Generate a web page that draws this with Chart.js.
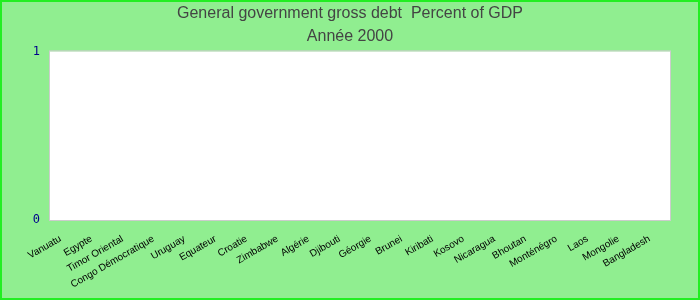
<!DOCTYPE html>
<html lang="fr">
<head>
    <meta charset="UTF-8">
    <title>General government gross debt</title>
    <script src="https://cdn.jsdelivr.net/npm/chart.js@4.4.0/dist/chart.umd.min.js"></script>
    <style>
        html, body {
            margin: 0;
            padding: 0;
            background-color: #90ee90;
        }
        .frame {
            width: 700px;
            height: 300px;
            box-sizing: border-box;
            border: 2px solid #22ee22;
            background-color: #90ee90;
        }
        .frame canvas {
            display: block;
        }
    </style>
</head>
<body>
    <div class="frame">
        <canvas id="debtChart" width="696" height="296"></canvas>
    </div>

    <script>
        // Chart data
        const countries = ['Vanuatu', 'Egypte', 'Timor Oriental', 'Congo Démocratique', 'Uruguay',
            'Equateur', 'Croatie', 'Zimbabwe', 'Algérie', 'Djibouti', 'Géorgie', 'Brunei',
            'Kiribati', 'Kosovo', 'Nicaragua', 'Bhoutan', 'Monténégro', 'Laos', 'Mongolie', 'Bangladesh'];
        // no value is shown for the year 2000
        const debtValues = [null, null, null, null, null, null, null, null, null, null,
            null, null, null, null, null, null, null, null, null, null];
        const yTicks = [0, 1];
        const titleLines = ['General government gross debt  Percent of GDP', 'Année 2000'];

        // white plot area with a light grey frame
        const plotBackground = {
            id: 'plotBackground',
            beforeDraw(chart) {
                const { ctx, chartArea } = chart;
                ctx.save();
                ctx.fillStyle = '#ffffff';
                ctx.fillRect(chartArea.left, chartArea.top, chartArea.width, chartArea.height);
                ctx.strokeStyle = '#cccccc';
                ctx.lineWidth = 1;
                ctx.strokeRect(chartArea.left - 0.5, chartArea.top - 0.5, chartArea.width + 1, chartArea.height + 1);
                ctx.restore();
            }
        };

        new Chart(document.getElementById('debtChart'), {
            type: 'bar',
            data: {
                labels: countries,
                datasets: [{
                    label: 'Percent of GDP',
                    data: debtValues,
                    backgroundColor: '#4a7fc1'
                }]
            },
            options: {
                responsive: false,
                animation: false,
                layout: { padding: 0 },
                plugins: {
                    legend: { display: false },
                    tooltip: { enabled: false },
                    title: {
                        display: true,
                        text: titleLines,
                        color: '#444444',
                        font: { family: 'Liberation Sans', size: 16, weight: 'normal', lineHeight: 1.45 },
                        padding: { top: 0, bottom: 3 }
                    }
                },
                scales: {
                    x: {
                        grid: { display: false, drawTicks: false },
                        border: { display: false },
                        ticks: {
                            autoSkip: false,
                            minRotation: 30,
                            maxRotation: 30,
                            padding: 13,
                            labelOffset: -5,
                            color: '#000000',
                            font: { family: 'Liberation Sans', size: 10 }
                        },
                        afterFit(scale) { scale.height = 78; }
                    },
                    y: {
                        min: 0,
                        max: 1,
                        grid: { display: false, drawTicks: false },
                        border: { display: false },
                        afterBuildTicks(scale) {
                            scale.ticks = yTicks.map(v => ({ value: v }));
                        },
                        ticks: {
                            padding: 10,
                            color: '#00008b',
                            font: { family: 'DejaVu Sans Mono', size: 12 }
                        },
                        afterFit(scale) { scale.width = 48; }
                    },
                    // empty right margin so the title stays centred on the page
                    yRight: {
                        position: 'right',
                        grid: { display: false, drawTicks: false },
                        border: { display: false },
                        ticks: { display: false },
                        afterFit(scale) { scale.width = 28; }
                    }
                }
            },
            plugins: [plotBackground]
        });
    </script>
</body>
</html>
